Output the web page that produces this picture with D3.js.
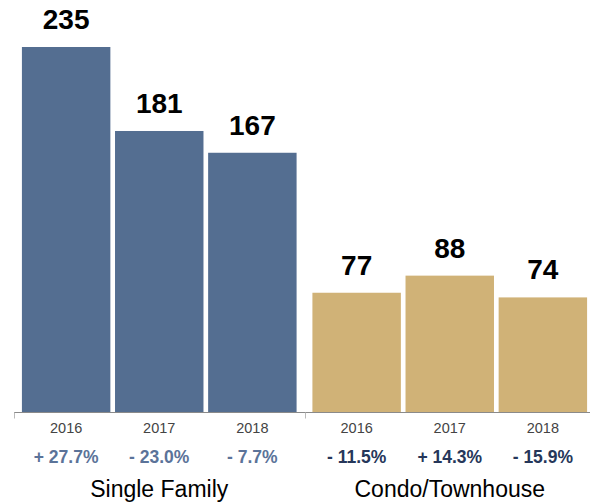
<!DOCTYPE html>
<html>
<head>
<meta charset="utf-8">
<script src="https://cdn.jsdelivr.net/npm/d3@7"></script>
<style>
  body { margin: 0; background: #fff; }
  text { font-family: "Liberation Sans", Arial, Helvetica, sans-serif; }
</style>
</head>
<body>
<div id="chart"></div>
<script>
const groups = ["Single Family", "Condo/Townhouse"];
const years = ["2016", "2017", "2018"];
const singleFamily = [235, 181, 167];
const condo = [77, 88, 74];
const singleFamilyChange = ["+ 27.7%", "- 23.0%", "- 7.7%"];
const condoChange = ["- 11.5%", "+ 14.3%", "- 15.9%"];

const barColors = ["#546e91", "#d0b277"];
const changeColors = ["#5b7399", "#26375a"];

const width = 590, height = 504;
const axisY = 412.5;

const svg = d3.select("#chart").append("svg")
    .attr("width", width)
    .attr("height", height);

const rows = [];
groups.forEach((g, gi) => {
    const vals = gi === 0 ? singleFamily : condo;
    const chg = gi === 0 ? singleFamilyChange : condoChange;
    years.forEach((yr, i) => {
        rows.push({ group: g, gi: gi, year: yr, value: vals[i], change: chg[i] });
    });
});

const x0 = d3.scaleBand()
    .domain(groups)
    .range([14, 595]);

const x1 = d3.scaleBand()
    .domain(years)
    .range([0, x0.bandwidth()])
    .paddingInner(0.05)
    .paddingOuter(0.085);

const y = d3.scaleLinear()
    .domain([0, 235])
    .range([axisY, 47]);

const cx = d => x0(d.group) + x1(d.year) + x1.bandwidth() / 2;

// bars
svg.append("g")
    .selectAll("rect")
    .data(rows)
    .join("rect")
    .attr("x", d => x0(d.group) + x1(d.year))
    .attr("y", d => y(d.value))
    .attr("width", x1.bandwidth())
    .attr("height", d => axisY - y(d.value))
    .attr("fill", d => barColors[d.gi]);

// value labels
svg.append("g")
    .selectAll("text")
    .data(rows)
    .join("text")
    .attr("x", cx)
    .attr("y", d => y(d.value) - 18)
    .attr("text-anchor", "middle")
    .style("font-size", "28px")
    .style("font-weight", "bold")
    .attr("fill", "#000")
    .text(d => d.value);

// axis line with group ticks
svg.append("line")
    .attr("x1", 14)
    .attr("x2", width)
    .attr("y1", axisY)
    .attr("y2", axisY)
    .attr("stroke", "#8a8a8a")
    .attr("stroke-width", 1);

svg.append("g")
    .selectAll("line")
    .data(groups)
    .join("line")
    .attr("x1", d => Math.round(x0(d)) + 0.5)
    .attr("x2", d => Math.round(x0(d)) + 0.5)
    .attr("y1", axisY)
    .attr("y2", axisY + 6)
    .attr("stroke", "#bbbbbb")
    .attr("stroke-width", 1);

// year labels
svg.append("g")
    .selectAll("text")
    .data(rows)
    .join("text")
    .attr("x", cx)
    .attr("y", axisY + 20)
    .attr("text-anchor", "middle")
    .style("font-size", "14.5px")
    .attr("fill", "#444")
    .text(d => d.year);

// change labels
svg.append("g")
    .selectAll("text")
    .data(rows)
    .join("text")
    .attr("x", cx)
    .attr("y", axisY + 50)
    .attr("text-anchor", "middle")
    .style("font-size", "17.5px")
    .style("font-weight", "bold")
    .attr("fill", d => changeColors[d.gi])
    .text(d => d.change);

// group labels
svg.append("g")
    .selectAll("text")
    .data(groups)
    .join("text")
    .attr("x", d => x0(d) + x0.bandwidth() / 2)
    .attr("y", axisY + 84)
    .attr("text-anchor", "middle")
    .style("font-size", "23px")
    .attr("fill", "#000")
    .text(d => d);
</script>
</body>
</html>
